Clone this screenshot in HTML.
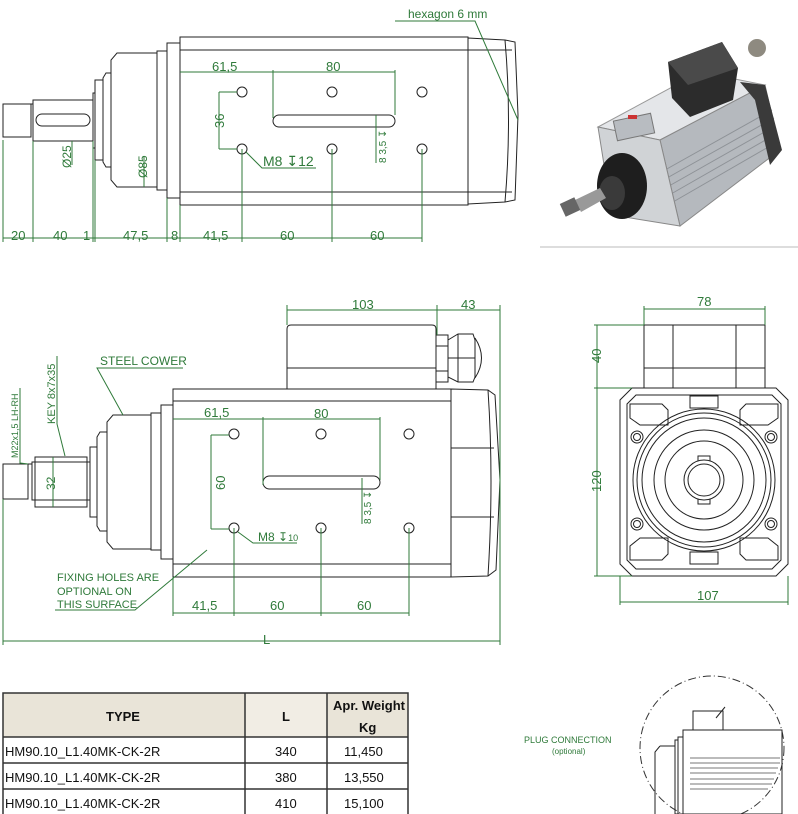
<!DOCTYPE html>
<html><head><meta charset="utf-8"><style>
html,body{margin:0;padding:0;background:#fff;}
svg{display:block;}
.k{fill:none;stroke:#222;stroke-width:1;}
.g{fill:none;stroke:#2f7a3a;stroke-width:1;}
.t{fill:#2f7a3a;font-family:"Liberation Sans",sans-serif;font-size:13px;}
.tb{font-family:"Liberation Sans",sans-serif;font-size:13px;fill:#111;}
</style></head><body>
<svg width="798" height="814" viewBox="0 0 798 814" xmlns="http://www.w3.org/2000/svg">
<!-- ===== TOP VIEW ===== -->
<g class="k">
<rect x="180" y="37" width="288" height="168"/>
<line x1="180" y1="50" x2="468" y2="50"/><line x1="180" y1="192" x2="468" y2="192"/>
<polygon points="468,38 505,40 515,42 518,115 515,200 505,202 468,204"/>
<line x1="468" y1="50" x2="512" y2="50"/><line x1="468" y1="192" x2="512" y2="192"/>
<path d="M505,40 Q512,120 505,202"/>
<rect x="167" y="43" width="13" height="155"/>
<rect x="157" y="51" width="10" height="139"/>
<polygon points="117,53 157,53 157,187 117,187 111,180 111,60"/>
<polygon points="106,73 111,73 111,167 106,167 103,162 103,78"/>
<rect x="95" y="80" width="8" height="80"/>
<rect x="93" y="93" width="2" height="55"/>
<rect x="33" y="100" width="60" height="41"/>
<rect x="36" y="114" width="54" height="12" rx="6"/>
<rect x="3" y="104" width="28" height="33"/>
<line x1="31" y1="104" x2="33" y2="104"/>
<circle cx="242" cy="92" r="5"/><circle cx="332" cy="92" r="5"/><circle cx="422" cy="92" r="5"/>
<circle cx="242" cy="149" r="5"/><circle cx="332" cy="149" r="5"/><circle cx="422" cy="149" r="5"/>
<rect x="273" y="115" width="122" height="12" rx="6"/>
</g>
<g class="g">
<line x1="3" y1="238" x2="422" y2="238"/>
<line x1="3" y1="140" x2="3" y2="242"/><line x1="33" y1="141" x2="33" y2="242"/>
<line x1="93" y1="141" x2="93" y2="242"/><line x1="95" y1="160" x2="95" y2="242"/>
<line x1="167" y1="198" x2="167" y2="242"/><line x1="180" y1="205" x2="180" y2="242"/>
<line x1="242" y1="149" x2="242" y2="242"/><line x1="332" y1="149" x2="332" y2="242"/><line x1="422" y1="149" x2="422" y2="242"/>
<line x1="180" y1="72" x2="395" y2="72"/>
<line x1="273" y1="70" x2="273" y2="118"/><line x1="395" y1="70" x2="395" y2="115"/>
<line x1="219" y1="92" x2="219" y2="149"/><line x1="219" y1="92" x2="237" y2="92"/><line x1="219" y1="149" x2="237" y2="149"/>
<line x1="72" y1="141" x2="72" y2="165"/>
<line x1="144" y1="157" x2="144" y2="187"/>
<line x1="376" y1="115" x2="376" y2="163"/>
<polyline points="246,152 262,168 316,168"/>
<polyline points="395,21 475,21 518,120"/>
</g>
<g class="t">
<text x="11" y="240">20</text><text x="53" y="240">40</text><text x="83" y="240">1</text>
<text x="123" y="240">47,5</text><text x="171" y="240">8</text><text x="203" y="240">41,5</text>
<text x="280" y="240">60</text><text x="370" y="240">60</text>
<text x="212" y="71">61,5</text><text x="326" y="71">80</text>
<text x="263" y="166" font-size="14">M8 ↧12</text>
<text x="408" y="18" font-size="12">hexagon 6 mm</text>
<text transform="translate(224,128) rotate(-90)">36</text>
<text transform="translate(71,168) rotate(-90)" font-size="12">Ø25</text>
<text transform="translate(147,178) rotate(-90)" font-size="12">Ø85</text>
<text transform="translate(386,163) rotate(-90)" font-size="10">8 3,5 ↧</text>
</g>
<!-- photo -->
<line x1="540" y1="247" x2="798" y2="247" stroke="#bbb" stroke-width="1"/>
<g>
<polygon points="598,127 700,72 765,85 660,140" fill="#e4e6e9" stroke="#999"/>
<polygon points="660,140 765,85 780,150 680,226" fill="#b5b9be" stroke="#888"/>
<g stroke="#8e9297" stroke-width="1">
<line x1="665" y1="170" x2="772" y2="110"/><line x1="667" y1="178" x2="774" y2="118"/>
<line x1="669" y1="186" x2="775" y2="126"/><line x1="671" y1="194" x2="776" y2="134"/>
<line x1="673" y1="202" x2="777" y2="142"/>
</g>
<polygon points="598,127 660,140 680,226 612,215" fill="#d0d3d6" stroke="#888"/>
<polygon points="740,82 765,85 782,150 770,165 755,100" fill="#3a3a3a"/>
<polygon points="668,62 722,42 738,68 733,100 690,117 672,98" fill="#2c2c2c"/>
<polygon points="668,62 722,42 738,68 688,85" fill="#4a4a4a"/>
<circle cx="757" cy="48" r="9" fill="#8e8a80"/>
<rect x="615" y="117" width="38" height="20" fill="#b8bcc1" stroke="#777" transform="rotate(-12 634 127)"/>
<rect x="628" y="115" width="9" height="4" fill="#c33"/>
<ellipse cx="622" cy="186" rx="25" ry="33" fill="#1e1e1e"/>
<ellipse cx="612" cy="193" rx="13" ry="17" fill="#3a3a3a"/>
<polygon points="575,200 600,188 606,198 581,212" fill="#999"/>
<rect x="562" y="200" width="16" height="14" fill="#666" transform="rotate(-25 570 207)"/>
</g>
<!-- ===== FRONT/SIDE VIEW ===== -->
<g class="k">
<rect x="173" y="389" width="278" height="188"/>
<line x1="173" y1="401" x2="451" y2="401"/><line x1="173" y1="564" x2="451" y2="564"/>
<polygon points="451,389 488,390 495,395 500,480 496,570 488,576 451,577"/>
<line x1="451" y1="448" x2="494" y2="448"/><line x1="451" y1="517" x2="494" y2="517"/>
<path d="M488,390 Q494,480 488,576"/>
<path d="M287,389 L287,329 Q287,325 291,325 L432,325 Q436,325 436,329 L436,389"/>
<line x1="287" y1="368" x2="436" y2="368"/>
<rect x="436" y="335" width="12" height="47"/>
<line x1="436" y1="346" x2="448" y2="346"/><line x1="436" y1="371" x2="448" y2="371"/>
<polygon points="448,340 458,334 473,334 475,340 475,377 473,382 458,382 448,377"/>
<line x1="458" y1="334" x2="458" y2="382"/><line x1="448" y1="358" x2="475" y2="358"/>
<path d="M475,338 Q488,358 475,378"/>
<rect x="161" y="405" width="12" height="154"/>
<rect x="151" y="413" width="10" height="137"/>
<polygon points="113,415 151,415 151,549 113,549 107,542 107,422"/>
<polygon points="100,432 107,432 107,531 100,531 97,526 97,437"/>
<rect x="90" y="447" width="7" height="70"/>
<rect x="35" y="457" width="52" height="50"/>
<rect x="32" y="462" width="58" height="38"/>
<rect x="3" y="464" width="25" height="35"/>
<line x1="28" y1="464" x2="32" y2="464"/>
<circle cx="234" cy="434" r="5"/><circle cx="321" cy="434" r="5"/><circle cx="409" cy="434" r="5"/>
<circle cx="234" cy="528" r="5"/><circle cx="321" cy="528" r="5"/><circle cx="409" cy="528" r="5"/>
<rect x="263" y="476" width="117" height="13" rx="6.5"/>
</g>
<g class="g">
<line x1="287" y1="310" x2="500" y2="310"/><line x1="287" y1="305" x2="287" y2="325"/><line x1="437" y1="305" x2="437" y2="335"/>
<line x1="500" y1="305" x2="500" y2="645"/>
<line x1="3" y1="641" x2="500" y2="641"/><line x1="3" y1="499" x2="3" y2="645"/>
<line x1="173" y1="419" x2="380" y2="419"/>
<line x1="263" y1="417" x2="263" y2="485"/><line x1="380" y1="417" x2="380" y2="480"/>
<line x1="211" y1="435" x2="211" y2="529"/><line x1="211" y1="435" x2="229" y2="435"/><line x1="211" y1="529" x2="229" y2="529"/>
<line x1="362" y1="478" x2="362" y2="524"/>
<polyline points="238,532 253,543 297,543"/>
<line x1="173" y1="577" x2="173" y2="616"/>
<line x1="173" y1="613" x2="409" y2="613"/>
<line x1="234" y1="528" x2="234" y2="616"/><line x1="321" y1="528" x2="321" y2="616"/><line x1="409" y1="528" x2="409" y2="616"/>
<polyline points="55,610 135,610 207,550"/>
<polyline points="183,368 97,368 123,415"/>
<polyline points="57,356 57,424 65,456"/>
<polyline points="20,388 20,463 28,464"/>
<line x1="53" y1="457" x2="53" y2="507"/>
</g>
<g class="t">
<text x="352" y="309">103</text><text x="461" y="309">43</text>
<text x="263" y="644">L</text>
<text x="204" y="417">61,5</text><text x="314" y="418">80</text>
<text transform="translate(225,490) rotate(-90)">60</text>
<text transform="translate(371,524) rotate(-90)" font-size="10">8 3,5 ↧</text>
<text x="258" y="541" font-size="12">M8 ↧<tspan font-size="9">10</tspan></text>
<text x="192" y="610">41,5</text><text x="270" y="610">60</text><text x="357" y="610">60</text>
<text x="100" y="365" font-size="12">STEEL COWER</text>
<text x="57" y="581" font-size="11">FIXING HOLES ARE</text>
<text x="57" y="595" font-size="11">OPTIONAL    ON</text>
<text x="57" y="608" font-size="11">THIS SURFACE</text>
<text transform="translate(55,424) rotate(-90)" font-size="11">KEY 8x7x35</text>
<text transform="translate(18,458) rotate(-90)" font-size="9">M22x1,5 LH-RH</text>
<text transform="translate(55,490) rotate(-90)" font-size="12">32</text>
</g>
<!-- ===== END VIEW ===== -->
<g class="k">
<rect x="644" y="325" width="121" height="63"/>
<line x1="644" y1="368" x2="765" y2="368"/><line x1="673" y1="325" x2="673" y2="388"/><line x1="736" y1="325" x2="736" y2="388"/>
<polygon points="632,388 776,388 788,400 788,564 776,576 632,576 620,564 620,400"/>
<polygon points="636,395 772,395 781,404 781,560 772,569 636,569 627,560 627,404"/>
<path d="M630,404 L662,404 L668,410 L668,425 L640,425 L630,418 Z"/>
<path d="M778,404 L746,404 L740,410 L740,425 L768,425 L778,418 Z"/>
<path d="M630,560 L662,560 L668,554 L668,538 L640,538 L630,546 Z"/>
<path d="M778,560 L746,560 L740,554 L740,538 L768,538 L778,546 Z"/>
<rect x="690" y="396" width="28" height="12"/><rect x="690" y="552" width="28" height="12"/>
<circle cx="704" cy="480" r="71"/><circle cx="704" cy="480" r="67"/><circle cx="704" cy="480" r="62"/>
<circle cx="704" cy="480" r="50"/><circle cx="704" cy="480" r="39"/>
<rect x="698" y="456" width="12" height="48"/>
<circle cx="704" cy="480" r="20" fill="#fff"/><circle cx="704" cy="480" r="16"/>
<circle cx="637" cy="437" r="6"/><circle cx="637" cy="437" r="3.5"/>
<circle cx="771" cy="437" r="6"/><circle cx="771" cy="437" r="3.5"/>
<circle cx="637" cy="524" r="6"/><circle cx="637" cy="524" r="3.5"/>
<circle cx="771" cy="524" r="6"/><circle cx="771" cy="524" r="3.5"/>
</g>
<g class="g">
<line x1="644" y1="309" x2="765" y2="309"/><line x1="644" y1="306" x2="644" y2="325"/><line x1="765" y1="306" x2="765" y2="325"/>
<line x1="597" y1="325" x2="597" y2="576"/><line x1="594" y1="325" x2="644" y2="325"/><line x1="594" y1="388" x2="632" y2="388"/><line x1="594" y1="576" x2="632" y2="576"/>
<line x1="620" y1="602" x2="788" y2="602"/><line x1="620" y1="576" x2="620" y2="605"/><line x1="788" y1="576" x2="788" y2="605"/>
</g>
<g class="t">
<text x="697" y="306">78</text><text x="697" y="600">107</text>
<text transform="translate(601,363) rotate(-90)">40</text>
<text transform="translate(601,492) rotate(-90)">120</text>
</g>
<!-- ===== TABLE ===== -->
<g>
<rect x="3" y="693" width="242" height="44" fill="#e9e4d8"/>
<rect x="245" y="693" width="82" height="44" fill="#f1ede4"/>
<rect x="327" y="693" width="81" height="44" fill="#e9e4d8"/>
<g stroke="#333" stroke-width="1.5" fill="none">
<rect x="3" y="693" width="405" height="125"/>
<line x1="245" y1="693" x2="245" y2="814"/><line x1="327" y1="693" x2="327" y2="814"/>
<line x1="3" y1="737" x2="408" y2="737"/><line x1="3" y1="763" x2="408" y2="763"/><line x1="3" y1="789" x2="408" y2="789"/>
</g>
<text class="tb" x="106" y="721" font-weight="bold">TYPE</text>
<text class="tb" x="282" y="721" font-weight="bold">L</text>
<text class="tb" x="333" y="710" font-weight="bold" font-size="12">Apr. Weight</text>
<text class="tb" x="359" y="732" font-weight="bold" font-size="12">Kg</text>
<text class="tb" x="5" y="756">HM90.10_L1.40MK-CK-2R</text>
<text class="tb" x="5" y="782">HM90.10_L1.40MK-CK-2R</text>
<text class="tb" x="5" y="808">HM90.10_L1.40MK-CK-2R</text>
<text class="tb" x="275" y="756">340</text><text class="tb" x="275" y="782">380</text><text class="tb" x="275" y="808">410</text>
<text class="tb" x="344" y="756">11,450</text><text class="tb" x="344" y="782">13,550</text><text class="tb" x="344" y="808">15,100</text>
</g>
<!-- ===== PLUG DETAIL ===== -->
<text x="524" y="743" fill="#2f7a3a" font-family="Liberation Sans,sans-serif" font-size="9">PLUG  CONNECTION</text>
<text x="552" y="754" fill="#2f7a3a" font-family="Liberation Sans,sans-serif" font-size="8">(optional)</text>
<circle cx="712" cy="748" r="72" fill="none" stroke="#333" stroke-dasharray="8,3,1,3"/>
<g class="k" stroke="#444">
<rect x="693" y="711" width="30" height="19"/>
<path d="M716,718 L725,707"/>
<line x1="683" y1="730" x2="782" y2="730"/>
<rect x="683" y="730" width="99" height="84"/>
<rect x="678" y="737" width="5" height="77"/><rect x="675" y="740" width="3" height="74"/>
<path d="M660,746 L675,746 L675,814 M660,746 L655,752 L655,814"/>
</g>
<g stroke="#777" stroke-width="1">
<line x1="690" y1="758" x2="780" y2="758"/><line x1="690" y1="763" x2="780" y2="763"/>
<line x1="690" y1="768" x2="778" y2="768"/><line x1="690" y1="773" x2="776" y2="773"/>
<line x1="690" y1="779" x2="774" y2="779"/><line x1="690" y1="784" x2="772" y2="784"/>
<line x1="690" y1="789" x2="768" y2="789"/>
</g>
</svg>
</body></html>
